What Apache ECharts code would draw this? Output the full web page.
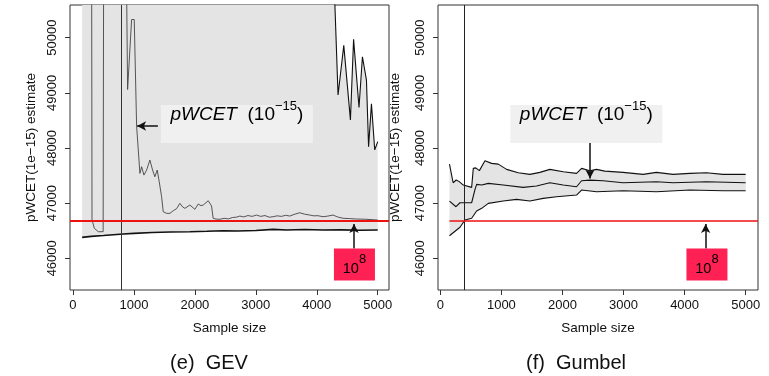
<!DOCTYPE html>
<html>
<head>
<meta charset="utf-8">
<script src="https://cdn.jsdelivr.net/npm/echarts@6/dist/echarts.min.js"></script>
<style>
  html, body { margin: 0; padding: 0; background: #fff; }
  #chart { width: 769px; height: 376px; }
</style>
</head>
<body>
<div id="chart"></div>
<script>
const xTicks = [0, 1000, 2000, 3000, 4000, 5000];
const yTicks = [46000, 47000, 48000, 49000, 50000];

// threshold line (red) and the vertical cut-off for each fit
const redLevel = 46676;
const gevCutoff = 800;
const gumbelCutoff = 400;

// GEV panel: [sample size, pWCET estimate]
// values far above the frame are the off-chart part of the curves
const gevUpper = [[150, 60000], [4200, 60000], [4275, 51300], [4349, 48960], [4443, 49860],
  [4552, 48510], [4604, 49970], [4693, 48735], [4749, 49655], [4815, 49230], [4850, 48025],
  [4897, 48800], [4951, 47965], [5000, 48115]];
const gevLower = [[150, 46380], [300, 46398], [500, 46412], [825, 46440], [1000, 46452],
  [1300, 46468], [1600, 46476], [1918, 46482], [2200, 46490], [2464, 46500], [2700, 46496],
  [3000, 46505], [3284, 46525], [3500, 46512], [3800, 46522], [4103, 46513], [4400, 46516],
  [4700, 46509], [5000, 46513]];
const gevEstimate = [[150, 62000], [250, 60000], [300, 56000], [312, 46700], [350, 46545],
  [415, 46482], [495, 46482], [510, 56000], [600, 60000], [800, 60000], [870, 52000],
  [896, 49060], [962, 50330], [1005, 50330], [1044, 48396], [1098, 47540], [1126, 47660],
  [1164, 47509], [1208, 47600], [1262, 47781], [1306, 47600], [1344, 47478], [1382, 47600],
  [1415, 47388], [1454, 47116], [1481, 46844], [1536, 46815], [1590, 46815], [1644, 46862],
  [1700, 46900], [1754, 46996], [1800, 46930], [1836, 46906], [1918, 46966], [2000, 46888],
  [2055, 46984], [2100, 46955], [2137, 46966], [2219, 47043], [2273, 46950], [2300, 46725],
  [2350, 46710], [2410, 46707], [2480, 46725], [2550, 46715], [2620, 46740], [2680, 46745],
  [2738, 46766], [2800, 46750], [2870, 46775], [2940, 46760], [3011, 46784], [3080, 46760],
  [3150, 46775], [3220, 46745], [3284, 46754], [3350, 46770], [3420, 46760], [3490, 46780],
  [3557, 46766], [3640, 46800], [3721, 46826], [3800, 46800], [3885, 46784], [3950, 46770],
  [4020, 46772], [4103, 46754], [4180, 46765], [4268, 46784], [4340, 46750], [4431, 46725],
  [4540, 46720], [4650, 46712], [4800, 46708], [5000, 46694]];

// Gumbel panel
const gumbelUpper = [[150, 47708], [210, 47370], [260, 47420], [310, 47390], [376, 47328],
  [513, 47286], [540, 47630], [580, 47640], [640, 47590], [731, 47768], [840, 47721],
  [949, 47708], [1086, 47612], [1276, 47551], [1467, 47521], [1631, 47558], [1794, 47612],
  [2012, 47569], [2231, 47539], [2313, 47630], [2448, 47587], [2558, 47612], [2694, 47581],
  [2993, 47558], [3320, 47521], [3539, 47558], [3811, 47521], [4084, 47539], [4357, 47551],
  [4629, 47521], [5000, 47521]];
const gumbelEstimate = [[150, 47038], [257, 46935], [322, 47007], [513, 47007], [568, 47250],
  [595, 47340], [677, 47328], [786, 47359], [1030, 47328], [1357, 47286], [1575, 47310],
  [1794, 47370], [2012, 47328], [2231, 47297], [2313, 47406], [2448, 47418], [2667, 47406],
  [2993, 47370], [3539, 47388], [3811, 47370], [4357, 47388], [5000, 47370]];
const gumbelLower = [[150, 46409], [322, 46562], [404, 46694], [513, 46725], [595, 46857],
  [677, 46906], [786, 46996], [1030, 47038], [1248, 47069], [1467, 47038], [1685, 47087],
  [1903, 47116], [2231, 47147], [2313, 47237], [2558, 47207], [2993, 47225], [3539, 47207],
  [4084, 47237], [4629, 47225], [5000, 47225]];

const font = '"Liberation Sans", Arial, Helvetica, sans-serif';
const yMin = 45425, yMax = 50593;

function xAxisFor(i, min, max) {
  return {
    type: 'value', gridIndex: i, min, max,
    name: 'Sample size', nameLocation: 'middle', nameGap: 31,
    nameTextStyle: { fontSize: 13.5, color: '#111', fontFamily: font },
    axisLine: { show: false, onZero: false },
    axisTick: { show: true, length: 5, customValues: xTicks, lineStyle: { color: '#333' } },
    axisLabel: { customValues: xTicks, formatter: v => String(v), fontSize: 13, color: '#111', margin: 9, fontFamily: font },
    splitLine: { show: false }
  };
}

function yAxisFor(i, gap) {
  return {
    type: 'value', gridIndex: i, min: yMin, max: yMax,
    name: 'pWCET(1e\u221215) estimate', nameLocation: 'middle', nameGap: gap,
    nameTextStyle: { fontSize: 13.5, color: '#111', fontFamily: font },
    axisLine: { show: false, onZero: false },
    axisTick: { show: true, length: 5, customValues: yTicks, lineStyle: { color: '#333' } },
    axisLabel: { customValues: yTicks, formatter: v => String(v), rotate: 90, fontSize: 13, color: '#111', margin: 11, fontFamily: font },
    splitLine: { show: false }
  };
}

// grey confidence band between the upper and lower curves
function bandFill(i, upper, lower) {
  return {
    type: 'custom', xAxisIndex: i, yAxisIndex: i, data: [[upper[0][0], lower[0][1]]],
    clip: true, silent: true, z: 1,
    renderItem: (params, api) => {
      const pts = upper.map(p => api.coord(p))
        .concat(lower.slice().reverse().map(p => api.coord(p)));
      return { type: 'polygon', shape: { points: pts }, style: { fill: '#e4e4e4', stroke: null } };
    }
  };
}

function curve(i, data, color, width) {
  return {
    type: 'line', xAxisIndex: i, yAxisIndex: i, data,
    symbol: 'none', silent: true, z: 2,
    lineStyle: { color, width }
  };
}

function arrow(from, to) {
  return [
    { coord: from, symbol: 'none', lineStyle: { color: '#111', width: 1.5, type: 'solid' } },
    { coord: to, symbol: 'arrow', symbolSize: [7, 9] }
  ];
}

const pwcetLabel = {
  show: true, position: 'inside', fontFamily: font, fontSize: 19, color: '#000',
  lineHeight: 24, verticalAlign: 'bottom',
  formatter: '{i|pWCET}  {n|(10}{s|\u221215}{n|)}',
  rich: {
    i: { fontSize: 19, fontStyle: 'italic', fontFamily: font, lineHeight: 24, verticalAlign: 'bottom', color: '#000' },
    n: { fontSize: 19, fontFamily: font, lineHeight: 24, verticalAlign: 'bottom', color: '#000' },
    s: { fontSize: 13, fontFamily: font, lineHeight: 13, verticalAlign: 'top', color: '#000' }
  }
};

const tenLabel = {
  show: true, position: 'inside', offset: [0, 0], fontFamily: font, fontSize: 14, color: '#000',
  formatter: '{n|10}{s|8}',
  rich: {
    n: { fontSize: 14.5, fontFamily: font, lineHeight: 24, verticalAlign: 'bottom', color: '#000' },
    s: { fontSize: 13, fontFamily: font, lineHeight: 13, verticalAlign: 'top', color: '#000' }
  }
};

function estimateSeries(i, data, color, width, marks) {
  return {
    type: 'line', xAxisIndex: i, yAxisIndex: i, data,
    symbol: 'none', silent: true, z: 3,
    lineStyle: { color, width },
    markLine: {
      silent: true, symbol: 'none', label: { show: false }, animation: false,
      emphasis: { disabled: true },
      data: marks.lines
    },
    markPoint: {
      silent: true, animation: false,
      data: marks.points
    }
  };
}

const gevMarks = {
  lines: [
    { xAxis: gevCutoff, lineStyle: { color: '#333', width: 1, type: 'solid' } },
    { yAxis: redLevel, lineStyle: { color: '#ee1111', width: 2, type: 'solid' } },
    arrow([1393, 48399], [1052, 48399]),
    arrow([4611, 46178], [4611, 46620])
  ],
  points: [
    { coord: [2689, 48435], symbol: 'rect', symbolSize: [152, 38], itemStyle: { color: '#f0f0f0' }, label: pwcetLabel },
    { coord: [4618, 45888], symbol: 'rect', symbolSize: [41, 32], itemStyle: { color: '#ff2153' }, label: tenLabel }
  ]
};

const gumbelMarks = {
  lines: [
    { xAxis: gumbelCutoff, lineStyle: { color: '#222', width: 1, type: 'solid' } },
    [{ coord: [150, redLevel], symbol: 'none', lineStyle: { color: '#ee1111', width: 1.5, type: 'solid' } },
     { coord: [5202, redLevel], symbol: 'none' }],
    arrow([2451, 48091], [2451, 47445]),
    arrow([4345, 46178], [4345, 46620])
  ],
  points: [
    { coord: [2390, 48435], symbol: 'rect', symbolSize: [152, 38], itemStyle: { color: '#f0f0f0' }, label: pwcetLabel },
    { coord: [4366, 45888], symbol: 'rect', symbolSize: [41, 32], itemStyle: { color: '#ff2153' }, label: tenLabel }
  ]
};

const chart = echarts.init(document.getElementById('chart'), null, { renderer: 'canvas' });

chart.setOption({
  animation: false,
  backgroundColor: '#fff',
  textStyle: { fontFamily: font },
  title: [
    { text: '(e)  GEV', left: 209, top: 353, textAlign: 'center', padding: 0,
      textStyle: { fontSize: 20, fontWeight: 'normal', color: '#111', fontFamily: font } },
    { text: '(f)  Gumbel', left: 576, top: 353, textAlign: 'center', padding: 0,
      textStyle: { fontSize: 20, fontWeight: 'normal', color: '#111', fontFamily: font } }
  ],
  grid: [
    { left: 70, top: 5, width: 319, height: 285, show: true, borderColor: '#333', borderWidth: 1, backgroundColor: 'transparent' },
    { left: 438, top: 5, width: 320, height: 285, show: true, borderColor: '#333', borderWidth: 1, backgroundColor: 'transparent' }
  ],
  xAxis: [xAxisFor(0, -49, 5185), xAxisFor(1, -38, 5202)],
  yAxis: [yAxisFor(0, 32), yAxisFor(1, 36)],
  series: [
    bandFill(0, gevUpper, gevLower),
    curve(0, gevUpper, '#111', 1.1),
    curve(0, gevLower, '#111', 1.6),
    estimateSeries(0, gevEstimate, '#444', 0.9, gevMarks),
    bandFill(1, gumbelUpper, gumbelLower),
    curve(1, gumbelUpper, '#111', 1.1),
    curve(1, gumbelLower, '#111', 1.1),
    estimateSeries(1, gumbelEstimate, '#111', 1.1, gumbelMarks)
  ]
});

window.addEventListener('resize', () => chart.resize());
</script>
</body>
</html>
